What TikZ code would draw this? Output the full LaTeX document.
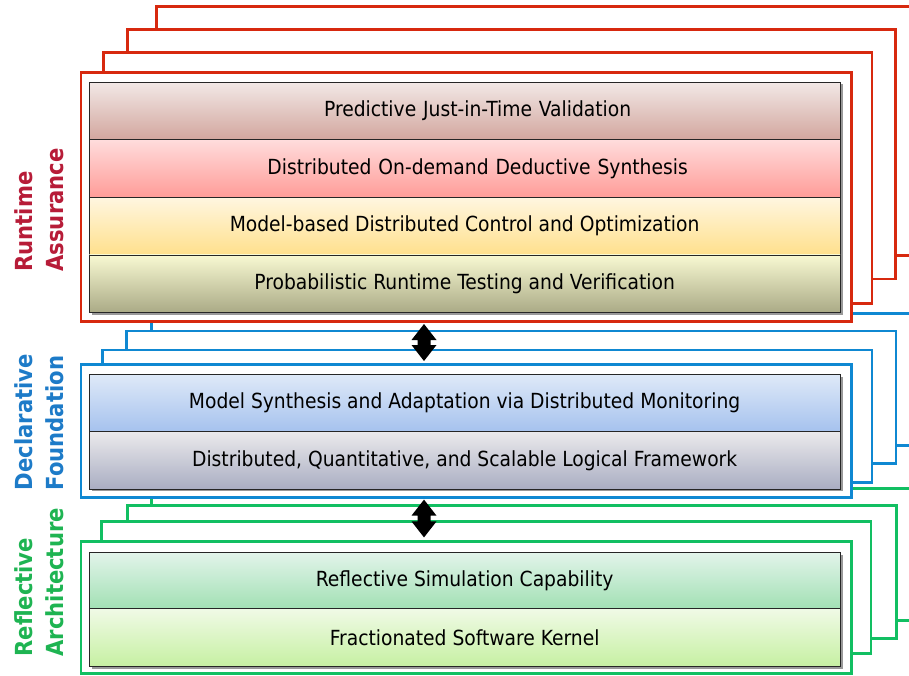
\documentclass[tikz,border=0pt]{standalone}
\usepackage{fontspec}
\setmainfont{DejaVu Sans Condensed}
\usetikzlibrary{calc}
\definecolor{redF}{HTML}{D7290F}
\definecolor{blueF}{HTML}{0F88D2}
\definecolor{greenF}{HTML}{12BF62}
\definecolor{labRed}{HTML}{B71C38}
\definecolor{labBlue}{HTML}{1D7BC8}
\definecolor{labGreen}{HTML}{1EB452}
\begin{document}
\begin{tikzpicture}[x=1pt,y=-1pt,
  frame/.style={line width=2.6pt, fill=white},
  redframe/.style={frame, draw=redF},
  blueframe/.style={frame, draw=blueF},
  greenframe/.style={frame, draw=greenF},
  row/.style={draw=black!85, line width=0.9pt, minimum width=750.7pt, inner sep=0pt, anchor=north, font=\fontsize{20.8}{24}\selectfont},
  shadowbox/.style={fill=black!40},
  sidelabel/.style={rotate=90, anchor=west, align=left, inner sep=0pt, font=\bfseries\fontsize{23.5}{31}\selectfont},
  bigarrow/.style={fill=black}
]
\clip (0,0) rectangle (909,675);
\fill[white] (0,0) rectangle (909,675);

% ---------- green stack ----------
\draw[greenframe] (151.7,488.3) rectangle (940,620.7);
\draw[greenframe] (127.3,505.7) rectangle (896.7,638.3);
\draw[greenframe] (101.7,521.7) rectangle (871,653.3);
\node[greenframe, minimum width=770.7pt, minimum height=131.6pt, inner sep=0pt] (gf) at (466.35,607.5) {};
\fill[shadowbox] (91.8,554.8) rectangle (842.5,668.5);
\node[row, minimum height=56pt,
      top color={rgb,255:red,226;green,244;blue,234}, bottom color={rgb,255:red,162;green,224;blue,180}]
      (g1) at (464.65,552.3) {Reflective Simulation Capability};
\node[row, minimum height=57.7pt,
      top color={rgb,255:red,240;green,250;blue,230}, bottom color={rgb,255:red,198;green,240;blue,162}]
      (g2) at (464.65,608.3) {Fractionated Software Kernel};

% ---------- blue stack ----------
\draw[blueframe] (151.7,313.3) rectangle (940,445.7);
\draw[blueframe] (126.7,331) rectangle (896,463.3);
\draw[blueframe] (102.3,350) rectangle (872,482.7);
\node[blueframe, minimum width=770.7pt, minimum height=133pt, inner sep=0pt] (bf) at (466.35,430.8) {};
\fill[shadowbox] (91.8,376.5) rectangle (842.5,491.2);
\node[row, minimum height=57pt,
      top color={rgb,255:red,222;green,233;blue,248}, bottom color={rgb,255:red,166;green,194;blue,238}]
      (b1) at (464.65,374) {Model Synthesis and Adaptation via Distributed Monitoring};
\node[row, minimum height=57.7pt,
      top color={rgb,255:red,235;green,234;blue,236}, bottom color={rgb,255:red,169;green,173;blue,194}]
      (b2) at (464.65,431) {Distributed, Quantitative, and Scalable Logical Framework};

% ---------- red stack ----------
\draw[redframe] (156.7,6.7) rectangle (940,255.7);
\draw[redframe] (127.3,29.3) rectangle (895.7,279);
\draw[redframe] (103.3,52.7) rectangle (872,303.3);
\node[redframe, minimum width=770.7pt, minimum height=249pt, inner sep=0pt] (rf) at (466.35,197.2) {};
\fill[shadowbox] (91.8,84.2) rectangle (842.5,314.6);
\node[row, minimum height=57.6pt, text width=725pt, align=center,
      top color={rgb,255:red,242;green,232;blue,230}, bottom color={rgb,255:red,210;green,166;blue,158}]
      (r1) at (464.65,81.7) {\hspace*{26pt}Predictive Just-in-Time Validation};
\node[row, minimum height=57.6pt, text width=725pt, align=center,
      top color={rgb,255:red,255;green,220;blue,220}, bottom color={rgb,255:red,255;green,156;blue,152}]
      (r2) at (464.65,139.3) {\hspace*{26pt}Distributed On-demand Deductive Synthesis};
\node[row, minimum height=57.6pt,
      top color={rgb,255:red,255;green,246;blue,224}, bottom color={rgb,255:red,255;green,224;blue,140}]
      (r3) at (464.65,196.9) {Model-based Distributed Control and Optimization};
\node[row, minimum height=57.6pt,
      top color={rgb,255:red,248;green,249;blue,210}, bottom color={rgb,255:red,170;green,170;blue,134}]
      (r4) at (464.65,254.5) {Probabilistic Runtime Testing and Verification};

% ---------- double arrows between the layers ----------
\coordinate (ax) at (424,0);
\coordinate (t1) at ([yshift=-1pt]rf.south -| ax);
\coordinate (u1) at ([yshift=2pt]bf.north -| ax);
\coordinate (t2) at ([yshift=-1pt]bf.south -| ax);
\coordinate (u2) at ([yshift=3pt]gf.north -| ax);
\foreach \a/\b in {t1/u1, t2/u2}{
  \fill[bigarrow] (\a) -- ($(\a)+(12.5,16)$) -- ($(\a)+(6.5,16)$) -- ($(\b)+(6.5,-16)$)
    -- ($(\b)+(12.5,-16)$) -- (\b) -- ($(\b)+(-12.5,-16)$) -- ($(\b)+(-6.5,-16)$)
    -- ($(\a)+(-6.5,16)$) -- ($(\a)+(-12.5,16)$) -- cycle;
}

% ---------- side labels ----------
\node[sidelabel, text=labRed] (lr) at (39.4,271.8) {Runtime\\Assurance};
\node[sidelabel, text=labBlue] (lb) at (39.4,490.5) {Declarative\\Foundation};
\node[sidelabel, text=labGreen] (lg) at (39.4,656.8) {Reflective\\Architecture};
\end{tikzpicture}
\end{document}
